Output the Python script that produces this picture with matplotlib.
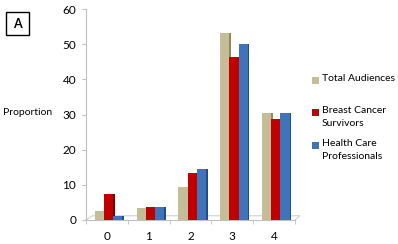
import matplotlib
matplotlib.use("Agg")
import matplotlib.pyplot as plt
import numpy as np
from matplotlib.patches import Rectangle

categories = ["0", "1", "2", "3", "4"]
series_names = ["Total Audiences", "Breast Cancer\nSurvivors", "Health Care\nProfessionals"]
total_aud = [2.5, 3.3, 9.5, 53.3, 30.3]
bcs = [7.5, 3.6, 13.5, 46.3, 28.8]
hcp = [1.0, 3.6, 14.5, 50.0, 30.3]
y_ticks = [0, 10, 20, 30, 40, 50, 60]

colors = ["#C4BD97", "#C00000", "#3F74BA"]
side_colors = ["#948A54", "#7A0000", "#1F4E8C"]

plt.rcParams['font.family'] = ['Lato', 'DejaVu Sans']

fig = plt.figure(figsize=(3.98, 2.44), dpi=100)
ax = fig.add_axes([86/398, 24/244, 209/398, 211/244])

x = np.arange(len(categories))
w = 0.22
data = [total_aud, bcs, hcp]
for i, vals in enumerate(data):
    xs = x + (i - 1) * w + 0.04
    ax.bar(xs, vals, width=w, color=colors[i], edgecolor='none', zorder=3,
           label=series_names[i])
    # darker side face for pseudo-3D look
    ax.bar(xs + w / 2 + 0.02, vals, width=0.04, color=side_colors[i],
           edgecolor='none', zorder=2)

ax.set_xlim(-0.5, 4.5)
ax.set_ylim(0, 60)
ax.set_yticks(y_ticks)
ax.set_xticks(x)
ax.set_xticklabels(categories)
ax.set_xticks(np.arange(-0.5, 5.0, 1.0), minor=True)
ax.tick_params(axis='x', which='major', length=0, pad=8, labelsize=8.5)
ax.tick_params(axis='x', which='minor', length=3, color='#BFBFBF')
ax.tick_params(axis='y', length=3, color='#BFBFBF', labelsize=8.5, pad=4)
for s in ['top', 'right']:
    ax.spines[s].set_visible(False)
ax.spines['left'].set_color('#BFBFBF')
ax.spines['bottom'].set_color('#BFBFBF')

# floor line (3D)
ax.plot([-0.5, -0.35, 4.62, 4.5], [0, 1.2, 1.2, 0], color='#D0D0D0', lw=0.8,
        zorder=1, clip_on=False)

fig.text(3/398, 1 - 112/244, "Proportion", fontsize=7.5, va='center', ha='left')

fig.text(17.5/398, 1 - 23.5/244, "A", fontsize=9, fontweight='bold', ha='center', va='center')
fig.patches.append(Rectangle((6/398, 1 - 35/244), 23/398, 23/244, transform=fig.transFigure,
                             fc='none', ec='black', lw=1))

# legend drawn manually to match layout
legend_tops = [74, 106, 139]
for name, c, top in zip(series_names, colors, legend_tops):
    fig.patches.append(Rectangle((312/398, 1 - (top + 9.5)/244), 6.5/398, 6.5/244,
                                 transform=fig.transFigure, fc=c, ec='none'))
    fig.text(322/398, 1 - top/244, name, fontsize=7.5, va='top', ha='left',
             linespacing=1.55)

fig.savefig("out.png", dpi=100)
